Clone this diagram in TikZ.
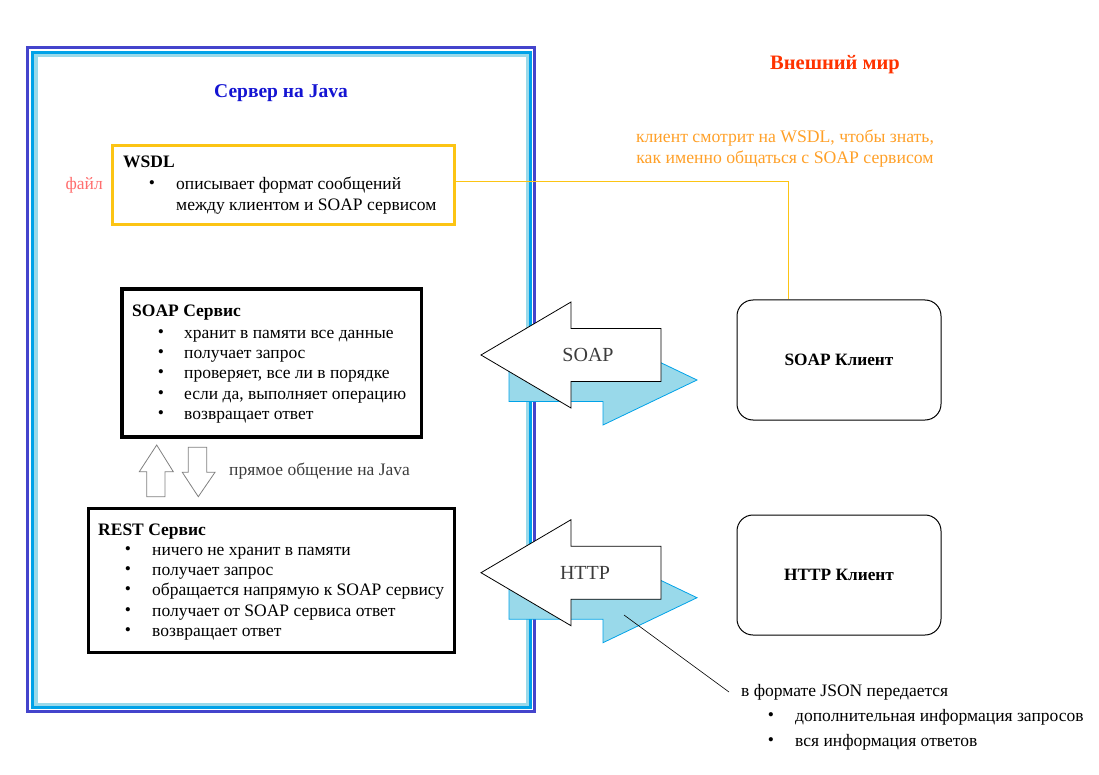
\documentclass[tikz,border=0pt]{standalone}
\usepackage{fontspec}
\setmainfont{Liberation Serif}
\definecolor{frameblue}{RGB}{68,68,204}
\definecolor{midblue}{RGB}{0,162,232}
\definecolor{lightblue}{RGB}{153,217,234}
\definecolor{javablue}{RGB}{20,20,210}
\definecolor{worldred}{RGB}{255,51,0}
\definecolor{wsdlyellow}{RGB}{252,196,20}
\definecolor{noteorange}{RGB}{255,160,40}
\definecolor{filered}{RGB}{255,110,110}
\definecolor{arrowgray}{RGB}{128,128,128}
\definecolor{labelgray}{RGB}{60,60,60}

\begin{document}
\begin{tikzpicture}[x=1pt,y=-1pt,
  txt/.style={font=\fontsize{17.5}{20}\selectfont,inner sep=0pt,
    text height=12pt,text depth=3.5pt,anchor=west},
  head/.style={txt,font=\fontsize{17.5}{20}\selectfont\bfseries},
  dot/.style={txt,anchor=center},
  title/.style={font=\fontsize{19.5}{23}\selectfont\bfseries,inner sep=0pt},
  service/.style={draw,line width=3.5pt,inner sep=0pt},
  client/.style={draw,line width=1pt,rounded corners=16pt,
    minimum width=204pt,minimum height=120pt,
    font=\fontsize{17.3}{20}\selectfont\bfseries},
  outarrow/.style={draw=black,line width=0.8pt,fill=white},
  inarrow/.style={draw=midblue,line width=0.8pt,fill=lightblue},
  smallarrow/.style={draw=arrowgray,line width=0.8pt,fill=white},
  proto/.style={font=\fontsize{20}{24}\selectfont,text=labelgray,inner sep=0pt}]
  \useasboundingbox (0,0) rectangle (1099,775);

  % server frame
  \draw[frameblue,line width=3pt] (27.5,48) rectangle (534.5,711.5);
  \draw[midblue,line width=3pt] (32.5,52.5) rectangle (530.5,707.5);
  \draw[lightblue,line width=3.5pt] (35.75,55.75) rectangle (527.25,704.25);

  \node[title,text=javablue] (server) at (281,93) {Сервер на Java};
  \node[title,text=worldred,font=\fontsize{20.5}{24}\selectfont\bfseries]
    (world) at (835,65) {Внешний мир};

  % WSDL
  \node[service,draw=wsdlyellow,line width=3pt,minimum width=342pt,
    minimum height=79pt] (wsdl) at (283.5,185) {};
  \node[head] (wsdlhead) at (123,163) {WSDL};
  \node[dot] (wsdldot) at (152,184) {\textbullet};
  \node[txt] (wsdlitem1) at (176,185) {описывает формат сообщений};
  \node[txt] (wsdlitem2) at (176,206) {между клиентом и SOAP сервисом};
  \node[txt,anchor=east,text=filered] (file) at (103,185) {файл};

  % SOAP service
  \node[service,minimum width=299.5pt,minimum height=148pt] (soap)
    at (271.75,363) {};
  \node[head] (soaphead) at (132,312) {SOAP Сервис};
  \foreach \t [count=\i] in {хранит в памяти все данные, получает запрос,
    {проверяет, все ли в порядке}, {если да, выполняет операцию},
    возвращает ответ}
  {
    \node[dot] (soapdot\i) at (161,313+20.2*\i) {\textbullet};
    \node[txt] (soapitem\i) at (184,314+20.2*\i) {\t};
  }

  % REST service
  \node[service,minimum width=366pt,minimum height=144pt] (rest)
    at (271.5,580.5) {};
  \node[head] (resthead) at (98,531) {REST Сервис};
  \foreach \t [count=\i] in {ничего не хранит в памяти, получает запрос,
    обращается напрямую к SOAP сервису, получает от SOAP сервиса ответ,
    возвращает ответ}
  {
    \node[dot] (restdot\i) at (128,530+20.2*\i) {\textbullet};
    \node[txt] (restitem\i) at (152,531+20.2*\i) {\t};
  }

  % java calls
  \draw[smallarrow] (156.7,445) -- (173.3,471.7) -- (165,471.7)
    -- (165,496.7) -- (146.7,496.7) -- (146.7,471.7) -- (139.3,471.7) -- cycle;
  \draw[smallarrow] (198.3,496.7) -- (215,472.3) -- (206.7,472.3)
    -- (206.7,447.3) -- (188.3,447.3) -- (188.3,472.3) -- (182.3,472.3) -- cycle;
  \node[txt,text=labelgray] (java) at (229,471) {прямое общение на Java};

  % clients
  \node[client] (soapcl) at (839,360) {SOAP Клиент};
  \node[client] (httpcl) at (839,575) {HTTP Клиент};

  % protocol arrows
  \foreach \c/\n in {355/SOAP,572.7/HTTP}
  {
    \draw[inarrow] (509,\c+3.5) -- (603,\c+3.5) -- (603,\c-20) -- (697,\c+25)
      -- (603,\c+70) -- (603,\c+46.5) -- (509,\c+46.5) -- cycle;
    \draw[outarrow] (481,\c) -- (571,\c-53) -- (571,\c-26.5) -- (661,\c-26.5)
      -- (661,\c+26.5) -- (571,\c+26.5) -- (571,\c+53) -- cycle;
  }
  \node[proto] (soaplbl) at (588,355) {SOAP};
  \node[proto] (httplbl) at (585,573) {HTTP};

  % WSDL to client
  \draw[wsdlyellow,line width=1pt] ([yshift=3pt]wsdl.east)
    -| ([xshift=-51pt]soapcl.north);
  \node[font=\fontsize{17.7}{21}\selectfont,text=noteorange,align=center,
    inner sep=0pt] (note) at (785,149)
    {клиент смотрит на WSDL, чтобы знать,\\как именно общаться с SOAP сервисом};

  % JSON note
  \coordinate (json) at (624,615);
  \node[txt] (jsonnote) at (741,692) {в формате JSON передается};
  \node[dot] (jsondot1) at (771,716) {\textbullet};
  \node[txt] (jsonitem1) at (795,717) {дополнительная информация запросов};
  \node[dot] (jsondot2) at (771,741) {\textbullet};
  \node[txt] (jsonitem2) at (795,742) {вся информация ответов};
  \draw[line width=0.6pt] (json) -- ([xshift=-12pt]jsonnote.west);
\end{tikzpicture}
\end{document}
